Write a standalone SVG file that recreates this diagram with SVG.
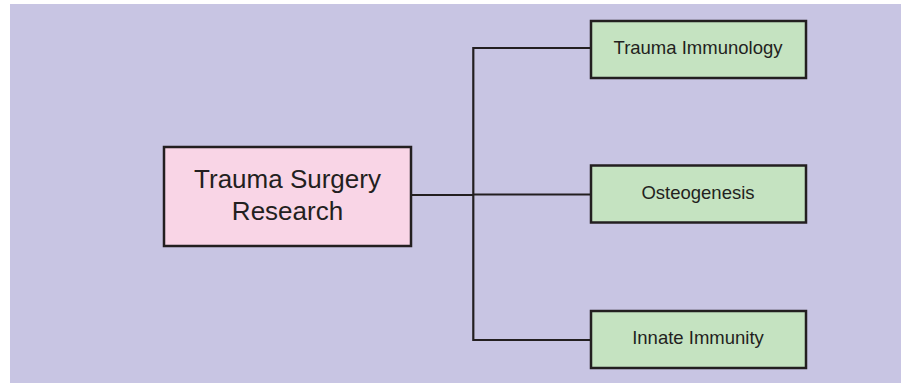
<svg xmlns="http://www.w3.org/2000/svg" width="901" height="383" viewBox="0 0 901 383">
<style>
.node rect{stroke:#231f20;stroke-width:2.5}
.main rect{fill:#f9d5e6}
.sub rect{fill:#c5e3c1}
text{font-family:"Liberation Sans",Arial,sans-serif;fill:#231f20;text-anchor:middle}
.main text{font-size:26px}
.sub text{font-size:18.5px}
.conn path{fill:none;stroke:#231f20;stroke-width:2.2}
</style>
<rect x="10" y="4" width="891" height="379" fill="#c8c5e3"/>
<g class="conn" id="connectors">
<path d="M411 195 H473.3"/>
<path d="M591 48 H473.3 V340 H591"/>
<path d="M473.3 194.5 H591"/>
</g>
<g id="n0" class="node main">
<rect x="164" y="147" width="247" height="99"/>
<text x="287.5" y="188.3">Trauma Surgery</text>
<text x="287.5" y="220">Research</text>
</g>
<g id="n1" class="node sub">
<rect x="591" y="21" width="215" height="57"/>
<text x="698" y="54">Trauma Immunology</text>
</g>
<g id="n2" class="node sub">
<rect x="591" y="165.5" width="215" height="57"/>
<text x="698" y="199">Osteogenesis</text>
</g>
<g id="n3" class="node sub">
<rect x="591" y="311" width="215" height="57"/>
<text x="698" y="344">Innate Immunity</text>
</g>
</svg>
